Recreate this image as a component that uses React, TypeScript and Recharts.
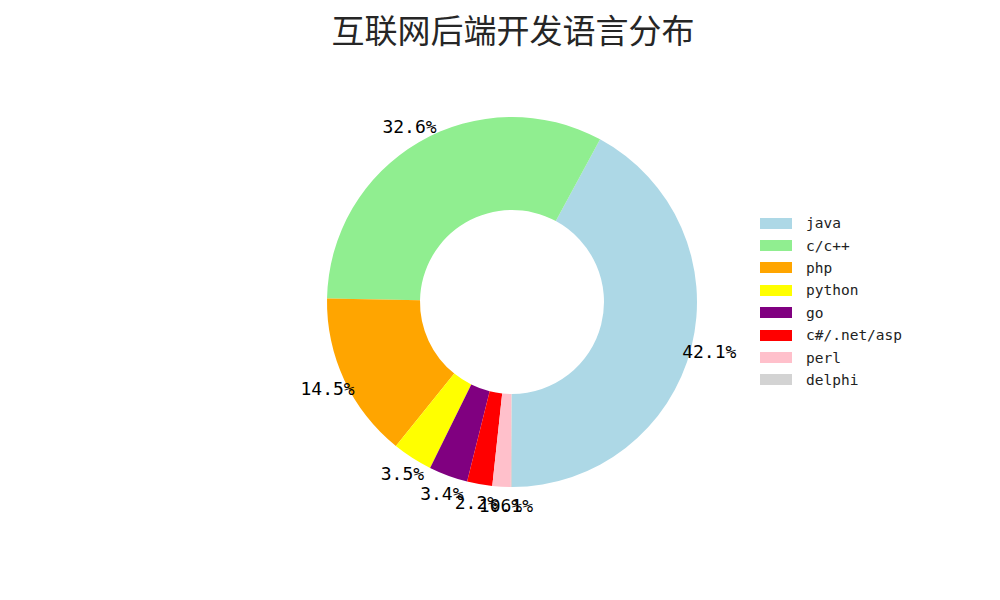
import React from 'react';
import { PieChart, Pie, Cell, Legend } from 'recharts';

const languages = ['java', 'c/c++', 'php', 'python', 'go', 'c#/.net/asp', 'perl', 'delphi'];
const shares = [42.1, 32.6, 14.5, 3.5, 3.4, 2.2, 1.6, 0.1];
const COLORS = ['#ADD8E6', '#90EE90', '#FFA500', '#FFFF00', '#800080', '#FF0000', '#FFC0CB', '#D3D3D3'];

const data = languages.map((name, i) => ({ name, value: shares[i] }));
const RADIAN = Math.PI / 180;

const renderLabel = (props: any) => {
    const { cx, cy, midAngle, outerRadius, value } = props;
    const r = outerRadius * 1.1;
    const x = cx + r * Math.cos(-midAngle * RADIAN);
    const y = cy + r * Math.sin(-midAngle * RADIAN);
    return (
        <text
            x={x}
            y={y}
            fill="#000"
            textAnchor="middle"
            dominantBaseline="central"
            style={{ fontFamily: '"DejaVu Sans Mono", monospace', fontSize: 18 }}
        >
            {`${Number(value).toFixed(1)}%`}
        </text>
    );
};

const renderLegend = () => (
    <div style={{ fontFamily: '"DejaVu Sans Mono", monospace', fontSize: 14.5, color: '#222' }}>
        {data.map((d, i) => (
            <div key={d.name} style={{ display: 'flex', alignItems: 'center', height: 22.4 }}>
                <span style={{ width: 32, height: 11, background: COLORS[i], display: 'inline-block', marginRight: 14 }} />
                <span>{d.name}</span>
            </div>
        ))}
    </div>
);

export default function App() {
    return (
        <div style={{ position: 'absolute', left: 0, top: 0, width: 1000, height: 600, background: '#fff' }}>
            <div
                style={{
                    position: 'absolute',
                    left: 0,
                    width: 1026,
                    top: 5,
                    textAlign: 'center',
                    fontFamily: '"Noto Sans CJK SC", sans-serif',
                    fontSize: 33,
                    color: '#262626',
                }}
            >
                互联网后端开发语言分布
            </div>
            <PieChart width={1000} height={600} margin={{ top: 0, right: 0, bottom: 0, left: 0 }}>
                <Pie
                    data={data}
                    dataKey="value"
                    nameKey="name"
                    cx={512}
                    cy={302}
                    innerRadius={92}
                    outerRadius={185}
                    startAngle={-90}
                    endAngle={270}
                    stroke="none"
                    labelLine={false}
                    label={renderLabel}
                    isAnimationActive={false}
                >
                    {data.map((entry, index) => (
                        <Cell key={`cell-${index}`} fill={COLORS[index % COLORS.length]} />
                    ))}
                </Pie>
                <Legend
                    content={renderLegend}
                    wrapperStyle={{ position: 'absolute', left: 760, top: 212, width: 200 }}
                />
            </PieChart>
        </div>
    );
}
